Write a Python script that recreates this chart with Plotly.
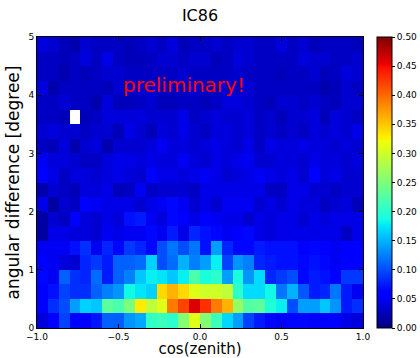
import numpy as np
import plotly.graph_objects as go

# bin edges
x_edges = np.linspace(-1.0, 1.0, 31)   # cos(zenith), 30 bins
y_edges = np.linspace(0.0, 5.0, 21)    # angular difference, 20 bins

x_ticks = [-1.0, -0.5, 0.0, 0.5, 1.0]
x_ticklabels = ["\u22121.0", "\u22120.5", "0.0", "0.5", "1.0"]
y_ticks = [0, 1, 2, 3, 4, 5]
cb_ticks = [0.00, 0.05, 0.10, 0.15, 0.20, 0.25, 0.30, 0.35, 0.40, 0.45, 0.50]

# rows from bottom (y 0-0.25) to top (y 4.75-5), 30 columns each
row00 = [0.04, 0.055, 0.095, 0.058, 0.063, 0.073, 0.11, 0.108, 0.135, 0.145, 0.205, 0.21, 0.2, 0.255, 0.31, 0.255, 0.21, 0.168, 0.14, 0.095, 0.075, 0.065, 0.06, 0.065, 0.065, 0.06, 0.055, 0.055, 0.045, 0.04]
row01 = [0.06, 0.085, 0.1, 0.14, 0.165, 0.16, 0.23, 0.22, 0.25, 0.33, 0.29, 0.31, 0.39, 0.42, 0.46, 0.43, 0.39, 0.36, 0.265, 0.225, 0.23, 0.195, 0.18, 0.1, 0.14, 0.14, 0.16, 0.135, 0.075, 0.085]
row02 = [0.06, 0.07, 0.095, 0.085, 0.085, 0.11, 0.125, 0.135, 0.185, 0.175, 0.165, 0.34, 0.36, 0.34, 0.31, 0.3, 0.3, 0.29, 0.2, 0.17, 0.17, 0.185, 0.12, 0.15, 0.105, 0.075, 0.08, 0.12, 0.075, 0.05]
row03 = [0.065, 0.05, 0.11, 0.085, 0.08, 0.115, 0.075, 0.11, 0.125, 0.16, 0.18, 0.175, 0.16, 0.18, 0.22, 0.19, 0.2, 0.14, 0.19, 0.135, 0.17, 0.08, 0.09, 0.1, 0.065, 0.075, 0.07, 0.055, 0.09, 0.09]
row04 = [0.06, 0.05, 0.04, 0.035, 0.08, 0.09, 0.075, 0.11, 0.11, 0.115, 0.165, 0.1, 0.115, 0.15, 0.125, 0.14, 0.18, 0.095, 0.135, 0.125, 0.08, 0.075, 0.07, 0.07, 0.065, 0.07, 0.065, 0.05, 0.06, 0.06]
row05 = [0.05, 0.05, 0.05, 0.07, 0.085, 0.05, 0.08, 0.065, 0.09, 0.08, 0.065, 0.1, 0.12, 0.1, 0.12, 0.07, 0.14, 0.08, 0.065, 0.065, 0.075, 0.07, 0.07, 0.07, 0.06, 0.065, 0.055, 0.05, 0.06, 0.06]
row06 = [0.015, 0.045, 0.045, 0.04, 0.04, 0.035, 0.05, 0.045, 0.05, 0.05, 0.065, 0.05, 0.075, 0.045, 0.08, 0.07, 0.065, 0.05, 0.06, 0.065, 0.045, 0.04, 0.045, 0.045, 0.045, 0.045, 0.045, 0.045, 0.03, 0.045]
row07 = [0.015, 0.035, 0.03, 0.055, 0.04, 0.035, 0.045, 0.04, 0.07, 0.075, 0.05, 0.04, 0.065, 0.06, 0.045, 0.06, 0.05, 0.045, 0.045, 0.035, 0.045, 0.04, 0.045, 0.045, 0.035, 0.045, 0.04, 0.045, 0.045, 0.045]
row08 = [0.045, 0.015, 0.035, 0.03, 0.06, 0.05, 0.045, 0.045, 0.045, 0.035, 0.045, 0.05, 0.065, 0.05, 0.035, 0.045, 0.035, 0.05, 0.05, 0.05, 0.035, 0.045, 0.035, 0.045, 0.04, 0.04, 0.03, 0.035, 0.04, 0.025]
row09 = [0.02, 0.035, 0.03, 0.025, 0.04, 0.04, 0.045, 0.025, 0.03, 0.05, 0.03, 0.035, 0.035, 0.035, 0.03, 0.045, 0.045, 0.045, 0.045, 0.045, 0.045, 0.03, 0.03, 0.045, 0.045, 0.035, 0.035, 0.03, 0.035, 0.035]
row10 = [0.055, 0.045, 0.03, 0.04, 0.04, 0.035, 0.04, 0.045, 0.04, 0.035, 0.055, 0.045, 0.045, 0.04, 0.045, 0.05, 0.045, 0.035, 0.04, 0.045, 0.05, 0.045, 0.04, 0.045, 0.035, 0.055, 0.04, 0.045, 0.035, 0.035]
row11 = [0.05, 0.04, 0.04, 0.035, 0.03, 0.03, 0.04, 0.045, 0.045, 0.04, 0.045, 0.04, 0.04, 0.05, 0.04, 0.035, 0.045, 0.04, 0.045, 0.05, 0.035, 0.035, 0.04, 0.04, 0.035, 0.045, 0.04, 0.04, 0.035, 0.04]
row12 = [0.03, 0.025, 0.04, 0.02, 0.035, 0.04, 0.02, 0.035, 0.035, 0.035, 0.04, 0.05, 0.04, 0.04, 0.035, 0.04, 0.045, 0.04, 0.035, 0.045, 0.03, 0.045, 0.04, 0.04, 0.045, 0.04, 0.04, 0.035, 0.04, 0.035]
row13 = [0.035, 0.04, 0.035, 0.035, 0.03, 0.035, 0.035, 0.025, 0.045, 0.035, 0.025, 0.04, 0.035, 0.045, 0.035, 0.03, 0.04, 0.04, 0.035, 0.04, 0.03, 0.035, 0.03, 0.035, 0.03, 0.04, 0.035, 0.04, 0.035, 0.045]
row14 = [0.03, 0.03, 0.025, None, 0.025, 0.03, 0.04, 0.04, 0.04, 0.04, 0.035, 0.035, 0.035, 0.045, 0.03, 0.035, 0.04, 0.035, 0.035, 0.04, 0.03, 0.035, 0.025, 0.035, 0.035, 0.04, 0.025, 0.04, 0.035, 0.03]
row15 = [0.03, 0.03, 0.035, 0.03, 0.03, 0.02, 0.04, 0.025, 0.025, 0.03, 0.035, 0.025, 0.025, 0.03, 0.03, 0.025, 0.03, 0.04, 0.04, 0.035, 0.03, 0.025, 0.035, 0.035, 0.03, 0.035, 0.03, 0.025, 0.035, 0.035]
row16 = [0.04, 0.02, 0.03, 0.03, 0.03, 0.03, 0.025, 0.035, 0.03, 0.035, 0.035, 0.03, 0.03, 0.03, 0.035, 0.03, 0.03, 0.035, 0.03, 0.035, 0.03, 0.03, 0.03, 0.03, 0.03, 0.03, 0.02, 0.025, 0.035, 0.03]
row17 = [0.03, 0.03, 0.02, 0.03, 0.025, 0.03, 0.035, 0.035, 0.03, 0.03, 0.03, 0.03, 0.03, 0.035, 0.03, 0.03, 0.03, 0.03, 0.035, 0.03, 0.03, 0.03, 0.025, 0.03, 0.03, 0.035, 0.025, 0.03, 0.04, 0.035]
row18 = [0.03, 0.03, 0.025, 0.03, 0.04, 0.03, 0.045, 0.03, 0.025, 0.025, 0.03, 0.035, 0.035, 0.03, 0.035, 0.035, 0.025, 0.03, 0.04, 0.035, 0.03, 0.03, 0.03, 0.03, 0.04, 0.035, 0.035, 0.03, 0.03, 0.035]
row19 = [0.04, 0.035, 0.025, 0.02, 0.035, 0.03, 0.03, 0.03, 0.025, 0.03, 0.035, 0.03, 0.04, 0.025, 0.03, 0.03, 0.035, 0.03, 0.035, 0.035, 0.03, 0.03, 0.04, 0.03, 0.035, 0.025, 0.03, 0.03, 0.03, 0.025]

z = [row00, row01, row02, row03, row04, row05, row06, row07, row08, row09,
     row10, row11, row12, row13, row14, row15, row16, row17, row18, row19]

# matplotlib-like jet colormap
jet = [
    [0.000, "rgb(0,0,128)"],
    [0.110, "rgb(0,0,255)"],
    [0.125, "rgb(0,0,255)"],
    [0.340, "rgb(0,219,255)"],
    [0.350, "rgb(0,230,247)"],
    [0.375, "rgb(21,255,226)"],
    [0.640, "rgb(239,255,8)"],
    [0.650, "rgb(247,245,0)"],
    [0.660, "rgb(255,236,0)"],
    [0.890, "rgb(255,19,0)"],
    [0.910, "rgb(232,0,0)"],
    [1.000, "rgb(128,0,0)"],
]

font_family = "DejaVu Sans"

fig = go.Figure()
fig.add_trace(go.Heatmap(
    x=x_edges, y=y_edges, z=z,
    zmin=0.0, zmax=0.5, colorscale=jet, zsmooth=False,
    hoverongaps=False,
    colorbar=dict(
        xref="container", x=377 / 420, xanchor="left", xpad=0,
        yref="paper", y=0.5, yanchor="middle", len=1.0, lenmode="fraction", ypad=0,
        thickness=15, thicknessmode="pixels",
        outlinecolor="black", outlinewidth=1,
        tickvals=cb_ticks, ticktext=[f"{v:.2f}" for v in cb_ticks],
        ticks="outside", ticklen=3, tickcolor="black",
        tickfont=dict(family=font_family, size=9, color="black"),
    ),
))

fig.add_annotation(
    x=-0.1, y=4.18, xref="x", yref="y", text="preliminary!", showarrow=False,
    font=dict(family=font_family, size=20, color="red"),
)

axis_common = dict(
    showline=True, linecolor="black", linewidth=1, mirror="ticks",
    ticks="inside", ticklen=4, tickcolor="black", showgrid=False, zeroline=False,
    automargin=False,
    tickfont=dict(family=font_family, size=9, color="black"),
)

fig.update_layout(
    width=420, height=358,
    margin=dict(l=37, r=57, t=37, b=30),
    paper_bgcolor="white", plot_bgcolor="white",
    title=dict(text="IC86", x=0.5, xref="paper", y=1 - 15 / 358, yanchor="middle",
               font=dict(family=font_family, size=16, color="black")),
    xaxis=dict(range=[-1, 1], tickvals=x_ticks, ticktext=x_ticklabels,
               title=dict(text="cos(zenith)", standoff=8,
                          font=dict(family=font_family, size=15, color="black")),
               **axis_common),
    yaxis=dict(range=[0, 5], tickvals=y_ticks, ticktext=[str(v) for v in y_ticks],
               title=dict(text="angular difference [degree]", standoff=4,
                          font=dict(family=font_family, size=17, color="black")),
               **axis_common),
)

fig.write_html("out.html")
